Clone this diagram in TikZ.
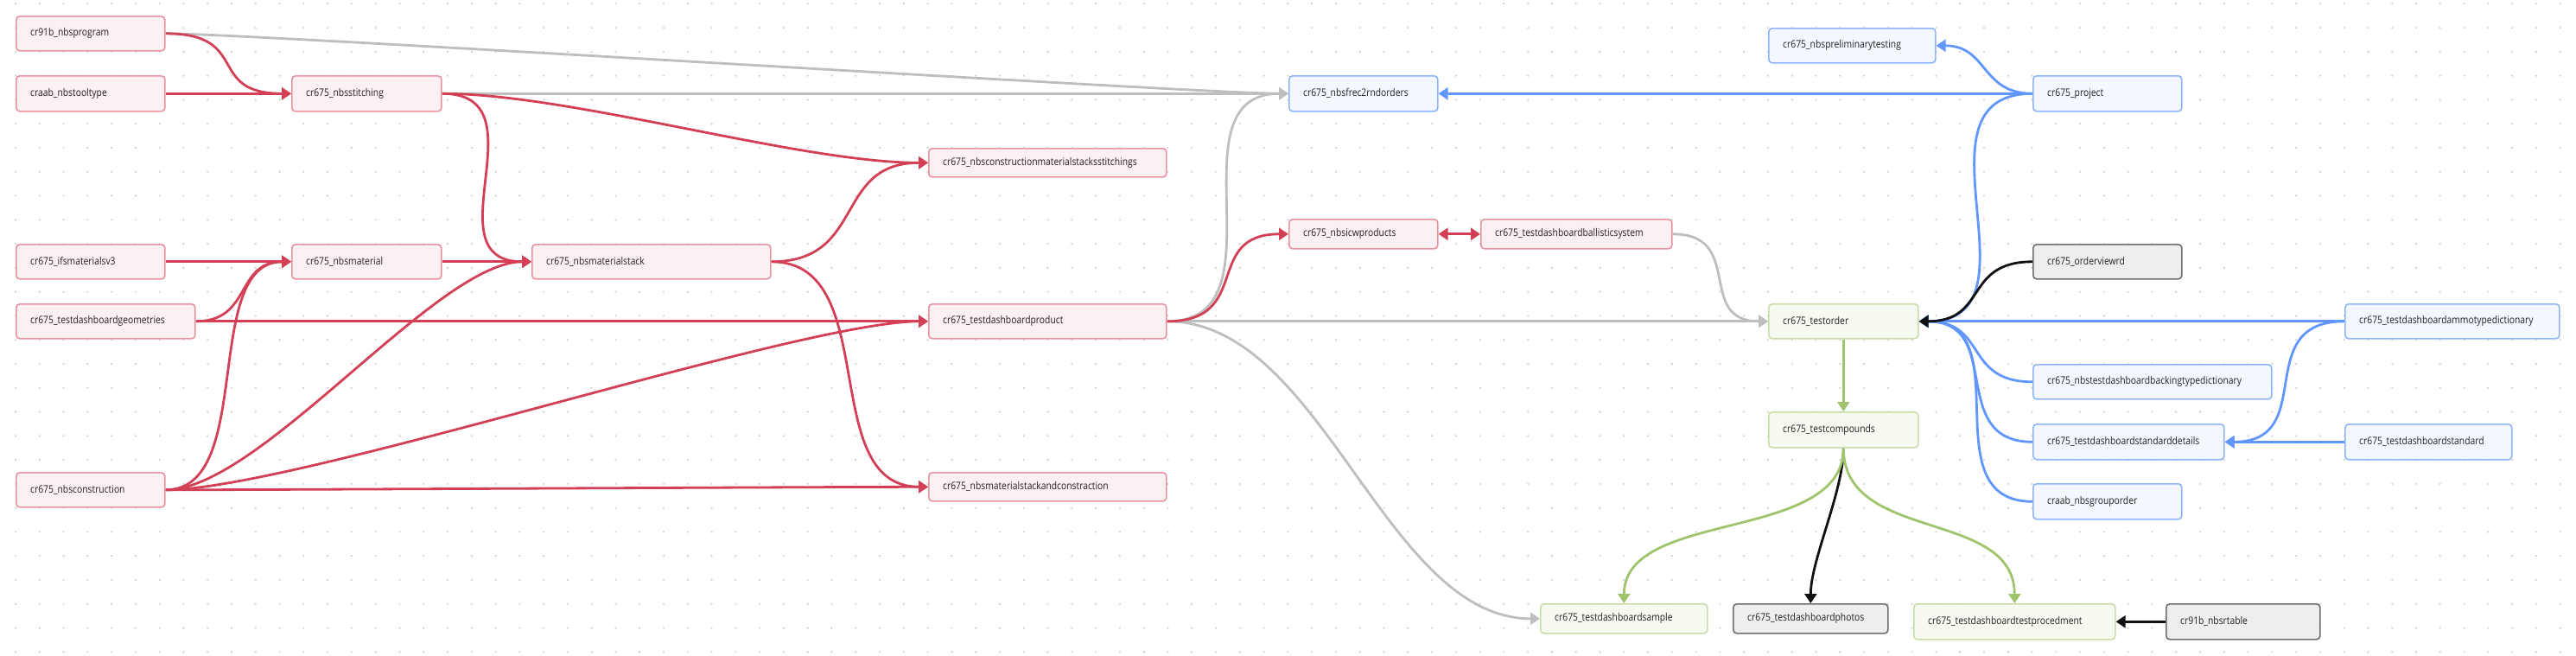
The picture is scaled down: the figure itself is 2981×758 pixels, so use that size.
\documentclass[tikz,border=0pt]{standalone}
\usepackage{fontspec}
\setmainfont{Open Sans}[FakeStretch=0.86]
\usetikzlibrary{arrows.meta}
\definecolor{redE}{HTML}{D34055}
\definecolor{redB}{HTML}{E8939F}
\definecolor{redF}{HTML}{FBF0F2}
\definecolor{bluE}{HTML}{6196FF}
\definecolor{bluB}{HTML}{8FB5F8}
\definecolor{bluF}{HTML}{F3F7FF}
\definecolor{grnE}{HTML}{A0C46E}
\definecolor{grnB}{HTML}{C8DCAA}
\definecolor{grnF}{HTML}{F7FAF1}
\definecolor{gryB}{HTML}{6E6E6E}
\definecolor{gryF}{HTML}{EEEEEE}
\definecolor{blkE}{HTML}{111111}
\definecolor{gryE}{HTML}{BEBEBE}
\definecolor{dotc}{HTML}{CFCFCF}
\definecolor{txt}{HTML}{222222}
\pgfdeclarelayer{gridlayer}
\pgfdeclarelayer{edgelayer}
\pgfsetlayers{gridlayer,edgelayer,main}
\tikzset{
  nbase/.style={rectangle, rounded corners=4pt, line width=1.6pt, inner sep=0pt},
  nred/.style={nbase, draw=redB, fill=redF},
  nblue/.style={nbase, draw=bluB, fill=bluF},
  ngreen/.style={nbase, draw=grnB, fill=grnF},
  ngray/.style={nbase, draw=gryB, fill=gryF},
  lbl/.style={font=\fontsize{12}{14}\selectfont, text=txt, inner sep=0pt},
  conn/.style={line width=2.8pt, -{Triangle[length=11pt,width=14pt]}},
  cR/.style={conn, draw=redE},
  cRR/.style={line width=2.8pt, draw=redE, {Triangle[length=11pt,width=14pt]}-{Triangle[length=11pt,width=14pt]}},
  cG/.style={conn, draw=gryE},
  cB/.style={conn, draw=bluE},
  cK/.style={conn, draw=blkE},
  cGr/.style={conn, draw=grnE}
}
\newcommand{\nd}[7]{%
  \node[#2, anchor=north west, minimum width={#5-#3}, minimum height={#6-#4}] (#1) at (#3,#4) {};
  \node[lbl, anchor=west] (#1-t) at ([xshift=17pt]#1.west) {#7};
}
\begin{document}
\begin{tikzpicture}[x=1pt,y=-1pt]
\useasboundingbox (0,0) rectangle (2981,758);
\begin{pgfonlayer}{gridlayer}
\fill[white] (0,0) rectangle (2981,758);
\foreach \i in {0,...,106}{\foreach \j in {0,...,27}{\fill[dotc] ({18+27.78*\i},{4.3+27.78*\j}) circle (1.2);}}
\end{pgfonlayer}
% red nodes
\nd{prog}{nred}{18}{18}{190}{58}{cr91b\_nbsprogram}
\nd{tool}{nred}{18}{87}{190}{128}{craab\_nbstooltype}
\nd{stitch}{nred}{337}{87}{510}{128}{cr675\_nbsstitching}
\nd{cmss}{nred}{1074}{171}{1349}{204}{cr675\_nbsconstructionmaterialstacksstitchings}
\nd{ifs}{nred}{18}{282}{190}{322}{cr675\_ifsmaterialsv3}
\nd{mat}{nred}{337}{282}{510}{322}{cr675\_nbsmaterial}
\nd{mstack}{nred}{615}{282}{891}{322}{cr675\_nbsmaterialstack}
\nd{geo}{nred}{18}{351}{225}{391}{cr675\_testdashboardgeometries}
\nd{prod}{nred}{1074}{351}{1349}{391}{cr675\_testdashboardproduct}
\nd{cons}{nred}{18}{546}{190}{586}{cr675\_nbsconstruction}
\nd{msac}{nred}{1074}{546}{1349}{579}{cr675\_nbsmaterialstackandconstraction}
\nd{icw}{nred}{1491}{253}{1663}{287}{cr675\_nbsicwproducts}
\nd{ball}{nred}{1713}{253}{1934}{287}{cr675\_testdashboardballisticsystem}
% blue nodes
\nd{frec}{nblue}{1491}{87}{1663}{128}{cr675\_nbsfrec2rndorders}
\nd{prelim}{nblue}{2046}{32}{2239}{72}{cr675\_nbspreliminarytesting}
\nd{proj}{nblue}{2352}{87}{2524}{128}{cr675\_project}
\nd{ammo}{nblue}{2713}{351}{2961}{391}{cr675\_testdashboardammotypedictionary}
\nd{back}{nblue}{2352}{421}{2628}{461}{cr675\_nbstestdashboardbackingtypedictionary}
\nd{stdd}{nblue}{2352}{490}{2573}{531}{cr675\_testdashboardstandarddetails}
\nd{std}{nblue}{2713}{490}{2906}{531}{cr675\_testdashboardstandard}
\nd{grp}{nblue}{2352}{559}{2524}{600}{craab\_nbsgrouporder}
% green nodes
\nd{order}{ngreen}{2046}{351}{2219}{391}{cr675\_testorder}
\nd{comp}{ngreen}{2046}{476}{2219}{517}{cr675\_testcompounds}
\nd{sample}{ngreen}{1782}{698}{1975}{732}{cr675\_testdashboardsample}
\nd{proc}{ngreen}{2214}{698}{2447}{739}{cr675\_testdashboardtestprocedment}
% gray nodes
\nd{orv}{ngray}{2352}{282}{2524}{322}{cr675\_orderviewrd}
\nd{photos}{ngray}{2005}{698}{2184}{732}{cr675\_testdashboardphotos}
\nd{rtable}{ngray}{2506}{698}{2684}{739}{cr91b\_nbsrtable}
\begin{pgfonlayer}{edgelayer}
% gray edges
\draw[cG] (prog.east) .. controls +(100,0) and +(-100,0) .. (frec.west);
\draw[cG] (stitch.east) -- (frec.west);
\draw[cG] (prod.east) .. controls +(140,0) and +(-140,0) .. (frec.west);
\draw[cG] (prod.east) -- (order.west);
\draw[cG] (prod.east) .. controls +(180,0) and +(-180,0) .. (sample.west);
\draw[cG] (ball.east) .. controls +(85,0) and +(-85,0) .. (order.west);
% red edges
\draw[cR] (prog.east) .. controls +(100,0) and +(-100,0) .. (stitch.west);
\draw[cR] (tool.east) -- (stitch.west);
\draw[cR] (stitch.east) .. controls +(120,0) and +(-120,0) .. (mstack.west);
\draw[cR] (stitch.east) .. controls +(150,0) and +(-150,0) .. (cmss.west);
\draw[cR] (mstack.east) .. controls +(110,0) and +(-110,0) .. (cmss.west);
\draw[cR] (mstack.east) .. controls +(130,0) and +(-130,0) .. (msac.west);
\draw[cR] (ifs.east) -- (mat.west);
\draw[cR] (geo.east) .. controls +(65,0) and +(-65,0) .. (mat.west);
\draw[cR] (cons.east) .. controls +(105,0) and +(-105,0) .. (mat.west);
\draw[cR] (mat.east) -- (mstack.west);
\draw[cR] (geo.east) -- (prod.west);
\draw[cR] (cons.east) .. controls +(110,0) and +(-110,0) .. (mstack.west);
\draw[cR] (cons.east) .. controls +(150,0) and +(-150,0) .. (prod.west);
\draw[cR] (cons.east) .. controls +(100,0) and +(-100,0) .. (msac.west);
\draw[cR] (prod.east) .. controls +(100,0) and +(-100,0) .. (icw.west);
\draw[cRR] (icw.east) -- (ball.west);
% blue edges
\draw[cB] (proj.west) -- (frec.east);
\draw[cB] (proj.west) .. controls +(-60,0) and +(60,0) .. (prelim.east);
\draw[cB] (proj.west) .. controls +(-150,0) and +(150,0) .. (order.east);
\draw[cB] (ammo.west) -- (order.east);
\draw[cB] (ammo.west) .. controls +(-110,0) and +(110,0) .. (stdd.east);
\draw[cB] (back.west) .. controls +(-80,0) and +(80,0) .. (order.east);
\draw[cB] (stdd.west) .. controls +(-100,0) and +(100,0) .. (order.east);
\draw[cB] (grp.west) .. controls +(-120,0) and +(120,0) .. (order.east);
\draw[cB] (std.west) -- (stdd.east);
% black edges
\draw[cK] (orv.west) .. controls +(-80,0) and +(80,0) .. (order.east);
\draw[cK] (comp.south) .. controls +(0,50) and +(0,-50) .. (photos.north);
\draw[cK] (rtable.west) -- (proc.east);
% green edges
\draw[cGr] (order.south) -- (comp.north);
\draw[cGr] (comp.south) .. controls +(0,110) and +(0,-110) .. (sample.north);
\draw[cGr] (comp.south) .. controls +(0,110) and +(0,-110) .. (proc.north);
\end{pgfonlayer}
\end{tikzpicture}
\end{document}
